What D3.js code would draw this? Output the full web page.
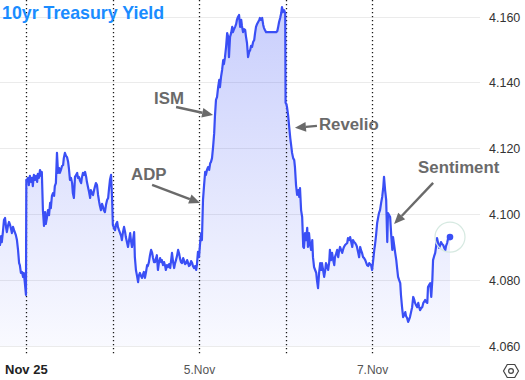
<!DOCTYPE html>
<html><head><meta charset="utf-8">
<script src="https://cdn.jsdelivr.net/npm/d3@7"></script>
<style>
html,body{margin:0;padding:0;background:#fff;}
svg{display:block;font-family:"Liberation Sans",Arial,sans-serif;}
</style>
</head><body>
<svg id="chart" width="525" height="380"></svg>
<script>
// ---- DATA: [hours since 3 Nov 00:00, 10yr yield %] ----
const sessionNov2 = [[-7.2,4.0907],[-6.9,4.0934],[-6.7,4.0916],[-6.4,4.0946],[-6.1,4.0983],[-5.8,4.0989],[-5.5,4.0959],[-5.3,4.0946],[-5.0,4.0965],[-4.7,4.0977],[-4.4,4.0968],[-4.2,4.0959],[-3.9,4.0943],[-3.6,4.0962],[-3.3,4.0952],[-3.1,4.0946],[-2.8,4.0937],[-2.5,4.0922],[-2.2,4.0892],[-1.9,4.0852],[-1.7,4.0846],[-1.4,4.0822],[-1.1,4.0825],[-0.8,4.0810],[-0.6,4.0822],[-0.3,4.0791],[0.0,4.0755]];
const sessionNov3 = [[0.1,4.1105],[0.3,4.1105],[0.6,4.1111],[0.8,4.1089],[1.1,4.1117],[1.4,4.1099],[1.7,4.1111],[1.9,4.1086],[2.2,4.1120],[2.5,4.1105],[2.8,4.1117],[3.1,4.1099],[3.3,4.1123],[3.6,4.1111],[3.9,4.1135],[4.2,4.1117],[4.4,4.1129],[4.7,4.1013],[5.0,4.0965],[5.3,4.1007],[5.5,4.0971],[5.8,4.0989],[6.1,4.1013],[6.4,4.0998],[6.7,4.1035],[6.9,4.1019],[7.2,4.1056],[7.5,4.1065],[7.8,4.1056],[8.0,4.1086],[8.3,4.1095],[8.6,4.1187],[8.9,4.1126],[9.2,4.1141],[9.4,4.1126],[9.7,4.1135],[10.0,4.1147],[10.3,4.1150],[10.5,4.1171],[10.8,4.1187],[11.1,4.1178],[11.4,4.1174],[11.7,4.1159],[11.9,4.1141],[12.2,4.1105],[12.5,4.1111],[12.8,4.1095],[13.0,4.1065],[13.3,4.1050],[13.6,4.1114],[13.9,4.1120],[14.2,4.1126],[14.4,4.1111],[14.7,4.1114],[15.0,4.1102],[15.3,4.1095],[15.5,4.1111],[15.8,4.1126],[16.1,4.1120],[16.4,4.1129],[16.7,4.1114],[16.9,4.1099],[17.2,4.1083],[17.5,4.1068],[17.8,4.1050],[18.0,4.1074],[18.3,4.1065],[18.6,4.1059],[18.9,4.1074],[19.1,4.1083],[19.4,4.1095],[19.7,4.1089],[20.0,4.1059],[20.3,4.1038],[20.5,4.1026],[20.8,4.1013],[21.1,4.1032],[21.4,4.1022],[21.6,4.1013],[21.9,4.1007],[22.2,4.1029],[22.5,4.1044],[22.8,4.1050],[23.0,4.1074],[23.3,4.1105],[23.6,4.1120],[23.9,4.1044],[24.1,4.0968]];
const sessionNov4 = [[24.4,4.0959],[24.7,4.0952],[25.0,4.0971],[25.3,4.0977],[25.5,4.0962],[25.8,4.0952],[26.1,4.0943],[26.4,4.0934],[26.6,4.0922],[26.9,4.0946],[27.2,4.0962],[27.5,4.0946],[27.7,4.0931],[28.0,4.0916],[28.3,4.0901],[28.6,4.0922],[28.9,4.0943],[29.1,4.0922],[29.4,4.0901],[29.7,4.0922],[30.0,4.0946],[30.2,4.0870],[30.5,4.0831],[30.8,4.0813],[31.1,4.0794],[31.3,4.0813],[31.6,4.0822],[31.9,4.0813],[32.2,4.0807],[32.5,4.0819],[32.7,4.0825],[33.0,4.0807],[33.3,4.0825],[33.6,4.0846],[33.8,4.0843],[34.1,4.0855],[34.4,4.0876],[34.7,4.0892],[35.0,4.0883],[35.2,4.0870],[35.5,4.0855],[35.8,4.0855],[36.1,4.0867],[36.3,4.0876],[36.6,4.0831],[36.9,4.0855],[37.2,4.0867],[37.5,4.0855],[37.7,4.0861],[38.0,4.0846],[38.3,4.0855],[38.6,4.0843],[38.8,4.0831],[39.1,4.0846],[39.4,4.0840],[39.7,4.0849],[40.0,4.0837],[40.2,4.0855],[40.5,4.0883],[40.8,4.0855],[41.1,4.0837],[41.3,4.0849],[41.6,4.0861],[41.9,4.0874],[42.2,4.0892],[42.5,4.0880],[42.7,4.0867],[43.0,4.0855],[43.3,4.0852],[43.6,4.0867],[43.8,4.0861],[44.1,4.0849],[44.4,4.0852],[44.7,4.0861],[44.9,4.0855],[45.2,4.0843],[45.5,4.0846],[45.8,4.0858],[46.1,4.0852],[46.3,4.0843],[46.6,4.0837],[46.9,4.0843],[47.2,4.0831],[47.4,4.0846],[47.7,4.0886],[48.0,4.0870]];
const sessionNov5 = [[48.3,4.0913],[48.6,4.0943],[48.8,4.0922],[49.1,4.1044],[49.4,4.1089],[49.7,4.1129],[49.9,4.1120],[50.2,4.1135],[50.5,4.1144],[50.8,4.1135],[51.1,4.1156],[51.3,4.1159],[51.6,4.1171],[51.9,4.1205],[52.2,4.1247],[52.4,4.1296],[52.7,4.1348],[53.0,4.1357],[53.3,4.1387],[53.6,4.1409],[53.8,4.1387],[54.1,4.1418],[54.4,4.1439],[54.7,4.1469],[54.9,4.1457],[55.2,4.1478],[55.5,4.1509],[55.8,4.1551],[56.1,4.1539],[56.3,4.1478],[56.6,4.1539],[56.9,4.1551],[57.2,4.1570],[57.4,4.1554],[57.7,4.1563],[58.0,4.1570],[58.3,4.1579],[58.5,4.1591],[58.8,4.1600],[59.1,4.1606],[59.4,4.1570],[59.7,4.1591],[59.9,4.1573],[60.2,4.1554],[60.5,4.1563],[60.8,4.1560],[61.0,4.1542],[61.3,4.1521],[61.6,4.1478],[61.9,4.1494],[62.2,4.1500],[62.4,4.1512],[62.7,4.1509],[63.0,4.1524],[63.3,4.1530],[63.5,4.1548],[63.8,4.1570],[64.1,4.1579],[64.4,4.1585],[64.7,4.1591],[64.9,4.1597],[65.2,4.1591],[65.5,4.1597],[65.8,4.1576],[66.0,4.1567],[66.3,4.1560],[66.6,4.1554],[67.2,4.1554],[67.7,4.1554],[68.3,4.1554],[68.8,4.1554],[69.4,4.1554],[69.7,4.1557],[69.9,4.1567],[70.2,4.1585],[70.5,4.1597],[70.8,4.1612],[71.0,4.1630],[71.3,4.1615],[71.6,4.1621],[71.9,4.1612]];
const sessionNov6 = [[72.0,4.1339],[72.2,4.1336],[72.4,4.1326],[72.7,4.1302],[73.0,4.1266],[73.3,4.1232],[73.6,4.1205],[73.8,4.1187],[74.1,4.1171],[74.4,4.1165],[74.6,4.1144],[74.9,4.1089],[75.2,4.1059],[75.5,4.1074],[75.8,4.1053],[76.0,4.1080],[76.3,4.1013],[76.6,4.0992],[76.9,4.0901],[77.1,4.0898],[77.4,4.0943],[77.7,4.0922],[78.0,4.0959],[78.2,4.0901],[78.5,4.0943],[78.8,4.0907],[79.1,4.0892],[79.4,4.0922],[79.6,4.0870],[79.9,4.0840],[80.2,4.0831],[80.5,4.0822],[80.7,4.0800],[81.0,4.0776],[81.3,4.0822],[81.6,4.0852],[81.9,4.0831],[82.1,4.0852],[82.4,4.0831],[82.7,4.0810],[83.0,4.0831],[83.2,4.0852],[83.5,4.0843],[83.8,4.0831],[84.1,4.0855],[84.3,4.0892],[84.6,4.0861],[84.9,4.0883],[85.2,4.0861],[85.5,4.0846],[85.7,4.0870],[86.0,4.0880],[86.3,4.0892],[86.6,4.0870],[86.8,4.0886],[87.1,4.0901],[87.4,4.0892],[87.7,4.0883],[88.0,4.0895],[88.2,4.0901],[88.5,4.0907],[88.8,4.0910],[89.1,4.0913],[89.3,4.0928],[89.6,4.0922],[89.9,4.0931],[90.2,4.0916],[90.5,4.0901],[90.7,4.0922],[91.0,4.0916],[91.3,4.0913],[91.6,4.0907],[91.8,4.0901],[92.1,4.0886],[92.4,4.0870],[92.7,4.0901],[92.9,4.0892],[93.2,4.0883],[93.5,4.0870],[93.8,4.0867],[94.1,4.0861],[94.3,4.0855],[94.6,4.0846],[94.9,4.0843],[95.2,4.0852],[95.4,4.0849],[95.7,4.0846],[96.0,4.0831]];
const sessionNov7 = [[96.3,4.0861],[96.6,4.0892],[96.8,4.0907],[97.1,4.0937],[97.4,4.0974],[97.7,4.0992],[97.9,4.1004],[98.2,4.1013],[98.5,4.1035],[98.8,4.1053],[99.1,4.1083],[99.3,4.1114],[99.6,4.1074],[99.9,4.1044],[100.2,4.0916],[100.4,4.1004],[100.7,4.0998],[101.0,4.0992],[101.3,4.0937],[101.6,4.0892],[101.8,4.0931],[102.1,4.0907],[102.4,4.0883],[102.7,4.0861],[102.9,4.0840],[103.2,4.0810],[103.5,4.0800],[103.8,4.0791],[104.0,4.0755],[104.3,4.0718],[104.6,4.0688],[104.9,4.0694],[105.2,4.0703],[105.4,4.0691],[105.7,4.0685],[106.0,4.0673],[106.3,4.0682],[106.5,4.0688],[106.8,4.0703],[107.1,4.0718],[107.4,4.0749],[107.7,4.0740],[107.9,4.0731],[108.2,4.0724],[108.5,4.0718],[108.8,4.0731],[109.0,4.0721],[109.3,4.0709],[109.6,4.0715],[109.9,4.0718],[110.2,4.0731],[110.4,4.0734],[110.7,4.0740],[111.0,4.0734],[111.3,4.0731],[111.5,4.0779],[111.8,4.0785],[112.1,4.0791],[112.4,4.0749],[112.7,4.0800],[112.9,4.0861],[113.2,4.0873],[113.5,4.0883],[113.8,4.0907],[114.0,4.0928],[114.3,4.0913],[114.6,4.0898],[114.9,4.0907],[115.1,4.0916],[115.4,4.0910],[115.7,4.0907],[116.0,4.0898],[116.3,4.0892],[116.5,4.0904],[116.8,4.0913],[117.1,4.0928],[117.4,4.0928],[117.6,4.0931]];

const yTickValues = [4.06, 4.08, 4.10, 4.12, 4.14, 4.16];
const dayBoundaryHours = [0, 24, 48, 72, 96];
const xTickHours = [48, 96];
const xTickLabels = ["5.Nov", "7.Nov"];
const periodLabel = "Nov 25";
const titleText = "10yr Treasury Yield";
const annotationLabels = ["ISM", "ADP", "Revelio", "Sentiment"];
const annotationHours = [51.9, 48.3, 74.6, 102.1];
const annotationYields = [4.1302, 4.1035, 4.1263, 4.0971];

// ---- LAYOUT ----
const series = [].concat(sessionNov2, sessionNov3, sessionNov4, sessionNov5, sessionNov6, sessionNov7)
  .map(d => ({h: d[0], v: d[1]}));
const svg = d3.select("#chart");
const x = d3.scaleLinear().domain([-7.2, 117.6]).range([0, 450]);
const y = d3.scaleLinear().domain([4.06, 4.16]).range([346, 17]);
const lineColor = "#3a4ff5";

const defs = svg.append("defs");
const grad = defs.append("linearGradient").attr("id", "areaGrad")
  .attr("gradientUnits", "userSpaceOnUse").attr("x1", 0).attr("y1", 0).attr("x2", 0).attr("y2", 346);
grad.append("stop").attr("offset", 0).attr("stop-color", lineColor).attr("stop-opacity", 0.28);
grad.append("stop").attr("offset", 1).attr("stop-color", lineColor).attr("stop-opacity", 0.03);

// gridlines
svg.append("g").selectAll("line").data(yTickValues).join("line")
  .attr("x1", 0).attr("x2", 480).attr("y1", d => y(d)).attr("y2", d => y(d))
  .attr("stroke", "#ebebeb").attr("stroke-width", 1).attr("shape-rendering", "crispEdges");

// area
svg.append("path").datum(series)
  .attr("d", d3.area().x(d => x(d.h)).y0(y(4.06)).y1(d => y(d.v)))
  .attr("fill", "url(#areaGrad)");

// day boundaries
svg.append("g").selectAll("line").data(dayBoundaryHours).join("line")
  .attr("x1", d => Math.round(x(d)) + 0.5).attr("x2", d => Math.round(x(d)) + 0.5)
  .attr("y1", 0).attr("y2", 355)
  .attr("stroke", "#1a1a1a").attr("stroke-width", 1.3).attr("stroke-dasharray", "1.3,2.7");

// line
svg.append("path").datum(series)
  .attr("d", d3.line().x(d => x(d.h)).y(d => y(d.v)))
  .attr("fill", "none").attr("stroke", lineColor).attr("stroke-width", 2.2)
  .attr("stroke-linejoin", "round").attr("stroke-linecap", "round");

// last point
const last = series[series.length - 1];
svg.append("circle").attr("cx", x(last.h)).attr("cy", y(last.v)).attr("r", 15)
  .attr("fill", "none").attr("stroke", "#d6e9e1").attr("stroke-width", 1.2);
svg.append("circle").attr("cx", x(last.h)).attr("cy", y(last.v)).attr("r", 3.3)
  .attr("fill", lineColor);

// y axis
const yAxis = svg.append("g").attr("transform", "translate(489,0)")
  .call(d3.axisRight(y).tickValues(yTickValues).tickFormat(d3.format(".3f")).tickSize(0).tickPadding(0));
yAxis.select(".domain").remove();
yAxis.selectAll("text").attr("font-size", 12.5).attr("fill", "#333").attr("font-family", "'Liberation Sans', Arial, sans-serif");

// x axis
const xAxis = svg.append("g").attr("transform", "translate(0,362)")
  .call(d3.axisBottom(x).tickValues(xTickHours).tickFormat((d, i) => xTickLabels[i]).tickSize(0).tickPadding(3));
xAxis.select(".domain").remove();
xAxis.selectAll("text").attr("font-size", 12).attr("fill", "#555").attr("font-family", "'Liberation Sans', Arial, sans-serif");

svg.append("text").attr("x", 5).attr("y", 374).text(periodLabel)
  .attr("font-size", 13).attr("font-weight", "bold").attr("fill", "#222");

// title
svg.append("text").attr("x", 2).attr("y", 19).text(titleText)
  .attr("font-size", 17.8).attr("font-weight", "bold").attr("fill", "#1a8cff");

// annotations (text offsets relative to arrow tip)
const tailOffsets = [[-37, -8], [-48, -18], [22, -2], [39, -41]];
const textOffsets = [[-59, -11], [-69, -23], [24, 2], [24, -51]];
const annColor = "#6a6a6a";
annotationLabels.forEach((lab, i) => {
  const tx = x(annotationHours[i]), ty = y(annotationYields[i]);
  const sx = tx + tailOffsets[i][0], sy = ty + tailOffsets[i][1];
  const ang = Math.atan2(ty - sy, tx - sx);
  const L = 11, W = 4.8;
  const bx = tx - L * Math.cos(ang), by = ty - L * Math.sin(ang);
  svg.append("line").attr("x1", sx).attr("y1", sy).attr("x2", bx).attr("y2", by)
    .attr("stroke", annColor).attr("stroke-width", 2.4);
  const px = -Math.sin(ang) * W, py = Math.cos(ang) * W;
  svg.append("path").attr("d", `M${tx},${ty}L${bx + px},${by + py}L${bx - px},${by - py}Z`).attr("fill", annColor);
  svg.append("text").attr("x", tx + textOffsets[i][0]).attr("y", ty + textOffsets[i][1]).text(lab)
    .attr("font-size", 16.8).attr("font-weight", "bold").attr("fill", annColor);
});

// settings icon (hexagon)
const hx = 511, hy = 371, hr = 7.5;
const hex = d3.range(6).map(k => [hx + hr * Math.cos(k * Math.PI / 3), hy + hr * Math.sin(k * Math.PI / 3)]);
svg.append("path").attr("d", "M" + hex.join("L") + "Z").attr("fill", "none").attr("stroke", "#444").attr("stroke-width", 1.2);
svg.append("circle").attr("cx", hx).attr("cy", hy).attr("r", 2.4).attr("fill", "none").attr("stroke", "#444").attr("stroke-width", 1.2);
</script>
</body></html>
